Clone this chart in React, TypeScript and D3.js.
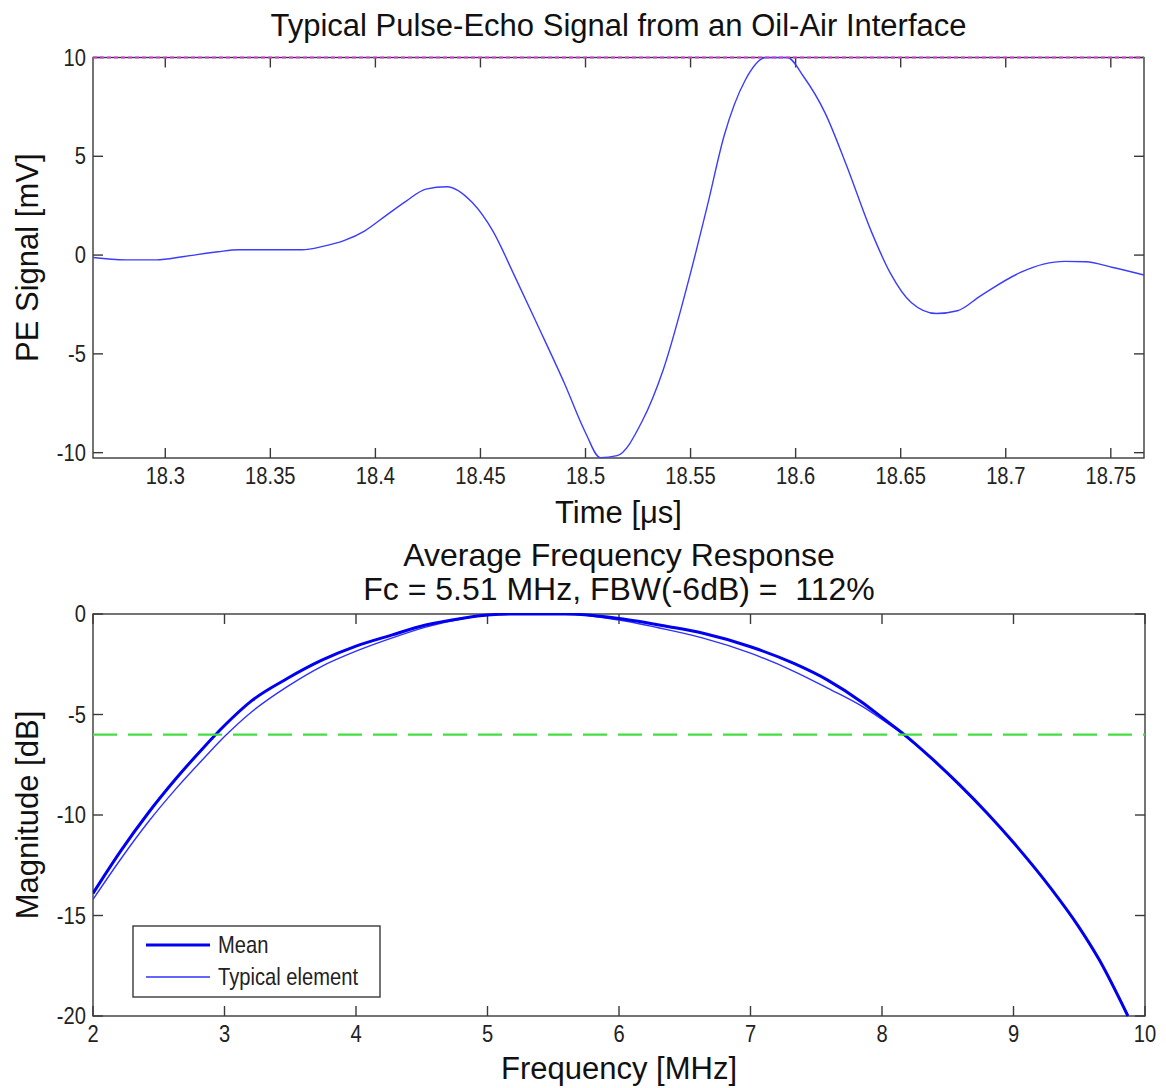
import React from "react";
import * as d3 from "d3";

// ---------- Top panel data ----------
const peTime = [
  18.2656, 18.281, 18.2957, 18.309, 18.325, 18.335, 18.365, 18.375, 18.385, 18.395,
  18.405, 18.4145, 18.424, 18.434, 18.446, 18.456, 18.466, 18.477, 18.49, 18.5,
  18.507, 18.515, 18.527, 18.537, 18.55, 18.558, 18.566, 18.576, 18.586, 18.596,
  18.604, 18.614, 18.624, 18.636, 18.645, 18.655, 18.667, 18.677, 18.688, 18.707,
  18.718, 18.728, 18.738, 18.751, 18.7658,
];
const peSignal = [
  -0.12, -0.24, -0.24, -0.07, 0.17, 0.27, 0.27, 0.44, 0.73, 1.23,
  2.0, 2.72, 3.34, 3.46, 2.67, 1.2, -1.0, -3.5, -6.5, -8.99,
  -10.25, -10.15, -8.4, -5.8, -0.9, 2.5, 6.05, 8.85, 10.0, 10.0,
  9.0, 7.2, 4.6, 1.2, -0.9, -2.4, -2.96, -2.82, -2.06, -0.88,
  -0.46, -0.32, -0.34, -0.63, -1.01,
];
const topXTicks = [18.3, 18.35, 18.4, 18.45, 18.5, 18.55, 18.6, 18.65, 18.7, 18.75];
const topXTickLabels = ["18.3", "18.35", "18.4", "18.45", "18.5", "18.55", "18.6", "18.65", "18.7", "18.75"];
const topYTicks = [-10, -5, 0, 5, 10];
const topYTickLabels = ["-10", "-5", "0", "5", "10"];
const topXDomain = [18.2656, 18.7658];
const topYDomain = [-10.27, 10];
const peakLevel = 10;

// ---------- Bottom panel data ----------
const meanFreq = [
  2.0, 2.21, 2.42, 2.63, 2.84, 3.0, 3.21, 3.48, 3.74,
  4.0, 4.27, 4.53, 4.8, 5.0, 5.2, 5.4, 5.59, 6.0, 6.38,
  6.64, 7.0, 7.33, 7.59, 7.85, 8.0, 8.17, 8.38, 8.59, 8.8,
  9.0, 9.28, 9.49, 9.65, 9.87,
];
const meanDb = [
  -13.9, -11.8, -9.9, -8.2, -6.65, -5.55, -4.3, -3.2, -2.3,
  -1.6, -1.05, -0.55, -0.22, -0.05, 0, 0, 0, -0.22, -0.63,
  -0.96, -1.63, -2.46, -3.3, -4.4, -5.15, -6.0, -7.2, -8.5, -9.91,
  -11.37, -13.61, -15.5, -17.18, -20.0,
];
const typFreq = [
  2.0, 2.21, 2.42, 2.63, 2.84, 3.0, 3.21, 3.48, 3.74, 4.0,
  4.27, 4.53, 4.8, 5.0, 5.3, 5.59, 6.0, 6.38, 6.64, 7.0,
  7.33, 7.59, 7.85, 8.0, 8.17, 8.38, 8.59, 8.8, 9.0, 9.28,
  9.49, 9.65, 9.87,
];
const typDb = [
  -14.2, -12.2, -10.35, -8.7, -7.2, -6.1, -4.85, -3.6, -2.6, -1.85,
  -1.2, -0.65, -0.25, -0.07, 0, 0, -0.3, -0.8, -1.2, -1.95,
  -2.85, -3.7, -4.6, -5.25, -6.05, -7.2, -8.5, -9.91, -11.37, -13.61,
  -15.5, -17.18, -20.0,
];
const botXTicks = [2, 3, 4, 5, 6, 7, 8, 9, 10];
const botXTickLabels = ["2", "3", "4", "5", "6", "7", "8", "9", "10"];
const botYTicks = [-20, -15, -10, -5, 0];
const botYTickLabels = ["-20", "-15", "-10", "-5", "0"];
const botXDomain = [2, 10];
const botYDomain = [-20, 0];
const bandwidthLevel = -6;
const legendLabels = ["Mean", "Typical element"];

const FONT = "'Liberation Sans', Arial, Helvetica, sans-serif";
const AXIS_COLOR = "#3a3a3a";
const SQUEEZE = 0.84;

type Box = { left: number; right: number; top: number; bottom: number };

function NarrowText({ x, y, anchor, children }: { x: number; y: number; anchor: "start" | "middle" | "end"; children: React.ReactNode }) {
  return (
    <text transform={`translate(${x},${y}) scale(${SQUEEZE},1)`} textAnchor={anchor}
      fontFamily={FONT} fontSize={24} fill="#222">
      {children}
    </text>
  );
}

function AxesBox({
  box, x, y, xTicks, xLabels, yTicks, yLabels,
}: {
  box: Box; x: d3.ScaleLinear<number, number>; y: d3.ScaleLinear<number, number>;
  xTicks: number[]; xLabels: string[]; yTicks: number[]; yLabels: string[];
}) {
  const tl = 10;
  return (
    <g>
      <rect x={box.left} y={box.top} width={box.right - box.left} height={box.bottom - box.top}
        fill="none" stroke={AXIS_COLOR} strokeWidth={1.4} />
      {xTicks.map((t, i) => (
        <g key={"x" + i}>
          <line x1={x(t)} x2={x(t)} y1={box.bottom} y2={box.bottom - tl} stroke={AXIS_COLOR} strokeWidth={1.4} />
          <line x1={x(t)} x2={x(t)} y1={box.top} y2={box.top + tl} stroke={AXIS_COLOR} strokeWidth={1.4} />
          <NarrowText x={x(t)} y={box.bottom + 26} anchor="middle">{xLabels[i]}</NarrowText>
        </g>
      ))}
      {yTicks.map((t, i) => (
        <g key={"y" + i}>
          <line x1={box.left} x2={box.left + tl} y1={y(t)} y2={y(t)} stroke={AXIS_COLOR} strokeWidth={1.4} />
          <line x1={box.right} x2={box.right - tl} y1={y(t)} y2={y(t)} stroke={AXIS_COLOR} strokeWidth={1.4} />
          <NarrowText x={box.left - 7} y={y(t) + 8} anchor="end">{yLabels[i]}</NarrowText>
        </g>
      ))}
    </g>
  );
}

export default function App() {
  const W = 1166, H = 1088;
  const topBox: Box = { left: 93, right: 1144, top: 57.5, bottom: 458 };
  const botBox: Box = { left: 93, right: 1145, top: 614, bottom: 1016 };

  const xTop = d3.scaleLinear().domain(topXDomain).range([topBox.left, topBox.right]);
  const yTop = d3.scaleLinear().domain(topYDomain).range([topBox.bottom, topBox.top]);
  const xBot = d3.scaleLinear().domain(botXDomain).range([botBox.left, botBox.right]);
  const yBot = d3.scaleLinear().domain(botYDomain).range([botBox.bottom, botBox.top]);

  const peLine = d3.line<number>().x((_, i) => xTop(peTime[i])).y((d) => yTop(d)).curve(d3.curveMonotoneX);
  const meanLine = d3.line<number>().x((_, i) => xBot(meanFreq[i])).y((d) => yBot(d)).curve(d3.curveMonotoneX);
  const typLine = d3.line<number>().x((_, i) => xBot(typFreq[i])).y((d) => yBot(d)).curve(d3.curveMonotoneX);

  const topCx = (topBox.left + topBox.right) / 2;
  const botCx = (botBox.left + botBox.right) / 2;

  return (
    <svg width={W} height={H} style={{ display: "block", position: "absolute", left: 0, top: 0, background: "#fff" }}>
      <defs>
        <clipPath id="clipTop">
          <rect x={topBox.left} y={topBox.top - 1} width={topBox.right - topBox.left} height={topBox.bottom - topBox.top + 2} />
        </clipPath>
        <clipPath id="clipBot">
          <rect x={botBox.left} y={botBox.top - 1} width={botBox.right - botBox.left} height={botBox.bottom - botBox.top + 2} />
        </clipPath>
      </defs>
      <rect x={0} y={0} width={W} height={H} fill="#fff" />

      {/* ---- Top panel ---- */}
      <text x={topCx} y={36} textAnchor="middle" fontFamily={FONT} fontSize={31} fill="#111">
        Typical Pulse-Echo Signal from an Oil-Air Interface
      </text>
      <AxesBox box={topBox} x={xTop} y={yTop} xTicks={topXTicks} xLabels={topXTickLabels}
        yTicks={topYTicks} yLabels={topYTickLabels} />
      <g clipPath="url(#clipTop)">
        <path d={peLine(peSignal) || ""} fill="none" stroke="#3c3cff" strokeWidth={1.4} />
      </g>
      <line x1={topBox.left} x2={topBox.right} y1={yTop(peakLevel)} y2={yTop(peakLevel)}
        stroke="#d03cd0" strokeWidth={2} strokeDasharray="4,3" />
      <text x={topCx} y={523} textAnchor="middle" fontFamily={FONT} fontSize={31} fill="#111">
        Time [μs]
      </text>
      <text transform={`translate(38,${(topBox.top + topBox.bottom) / 2}) rotate(-90)`} textAnchor="middle"
        fontFamily={FONT} fontSize={31} fill="#111">
        PE Signal [mV]
      </text>

      {/* ---- Bottom panel ---- */}
      <text x={botCx} y={566} textAnchor="middle" fontFamily={FONT} fontSize={32} fill="#111">
        Average Frequency Response
      </text>
      <text x={botCx} y={600} textAnchor="middle" fontFamily={FONT} fontSize={32} fill="#111" style={{ whiteSpace: "pre" }}>
        {"Fc = 5.51 MHz, FBW(-6dB) =  112%"}
      </text>
      <AxesBox box={botBox} x={xBot} y={yBot} xTicks={botXTicks} xLabels={botXTickLabels}
        yTicks={botYTicks} yLabels={botYTickLabels} />
      <g clipPath="url(#clipBot)">
        <path d={typLine(typDb) || ""} fill="none" stroke="#3030ff" strokeWidth={1.4} />
        <path d={meanLine(meanDb) || ""} fill="none" stroke="#0000f0" strokeWidth={3} />
        <line x1={botBox.left} x2={botBox.right} y1={yBot(bandwidthLevel)} y2={yBot(bandwidthLevel)}
          stroke="#44dd44" strokeWidth={2.2} strokeDasharray="24,11" />
      </g>
      {/* legend */}
      <g>
        <rect x={133} y={926} width={247} height={71} fill="#fff" stroke={AXIS_COLOR} strokeWidth={1.4} />
        <line x1={146} x2={210} y1={945} y2={945} stroke="#0000f0" strokeWidth={3} />
        <NarrowText x={218} y={953} anchor="start">{legendLabels[0]}</NarrowText>
        <line x1={146} x2={210} y1={977} y2={977} stroke="#3030ff" strokeWidth={1.4} />
        <NarrowText x={218} y={985} anchor="start">{legendLabels[1]}</NarrowText>
      </g>
      <text x={botCx} y={1079} textAnchor="middle" fontFamily={FONT} fontSize={31} fill="#111">
        Frequency [MHz]
      </text>
      <text transform={`translate(38,${(botBox.top + botBox.bottom) / 2}) rotate(-90)`} textAnchor="middle"
        fontFamily={FONT} fontSize={31} fill="#111">
        Magnitude [dB]
      </text>
    </svg>
  );
}
